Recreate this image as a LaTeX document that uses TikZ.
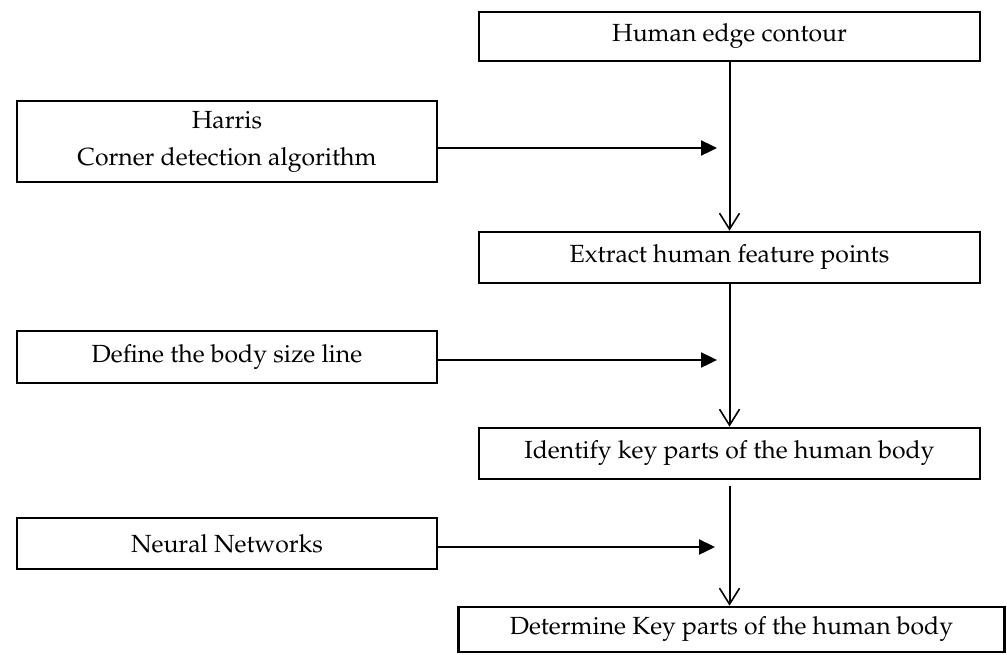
\documentclass[tikz,border=0pt]{standalone}
\usepackage[T1]{fontenc}
\renewcommand{\rmdefault}{ppl}
\usepackage{tikz}
\usetikzlibrary{arrows.meta,positioning}

\begin{document}
\begin{tikzpicture}[
  x=0.5pt, y=-0.5pt,
  font=\fontsize{12.4}{15}\selectfont,
  box/.style={draw, line width=1.3pt, align=center, inner sep=0pt, minimum height=25.5pt},
  mainbox/.style={box, minimum width=250.5pt},
  sidebox/.style={box, minimum width=210pt},
  flow/.style={-{Straight Barb[length=8pt, width=10pt, line width=0.8pt]}, line width=1pt},
  feed/.style={-{Triangle[length=8pt, width=7.5pt]}, line width=1.2pt}
]
\useasboundingbox (0,0) rectangle (1007,654);

% ---- main column ----
\node[mainbox, minimum height=24.5pt] (contour) at (729.5,36.5) {Human edge contour};
\node[mainbox] (extract) at (729.5,257.5) {Extract human feature points};
\node[mainbox] (identify) at (729.5,453.5) {Identify key parts of the human body};
\node[box, minimum width=273pt, minimum height=22.5pt] (determine) at (731.5,629.5) {Determine Key parts of the human body};

% ---- inputs ----
\node[sidebox, minimum height=40.5pt] (harris) at (227,141.5) {Harris\\[3.5pt]Corner detection algorithm};
\node[sidebox, minimum height=26pt] (sizeline) at (227,357) {Define the body size line};
\node[sidebox] (neural) at (227,543.5) {Neural Networks};

\coordinate (tipA) at (717,148);
\coordinate (tipB) at (717,360);
\coordinate (tipC) at (715,547);

% edges
\draw[flow] (contour) -- (extract);
\draw[flow] (extract) -- (identify);
\draw[flow, shorten <=3pt] (identify.south) -- (identify.south |- determine.north);
\draw[feed] (harris.east |- tipA) -- (tipA);
\draw[feed] (sizeline.east |- tipB) -- (tipB);
\draw[feed] (neural.east |- tipC) -- (tipC);
\end{tikzpicture}
\end{document}
